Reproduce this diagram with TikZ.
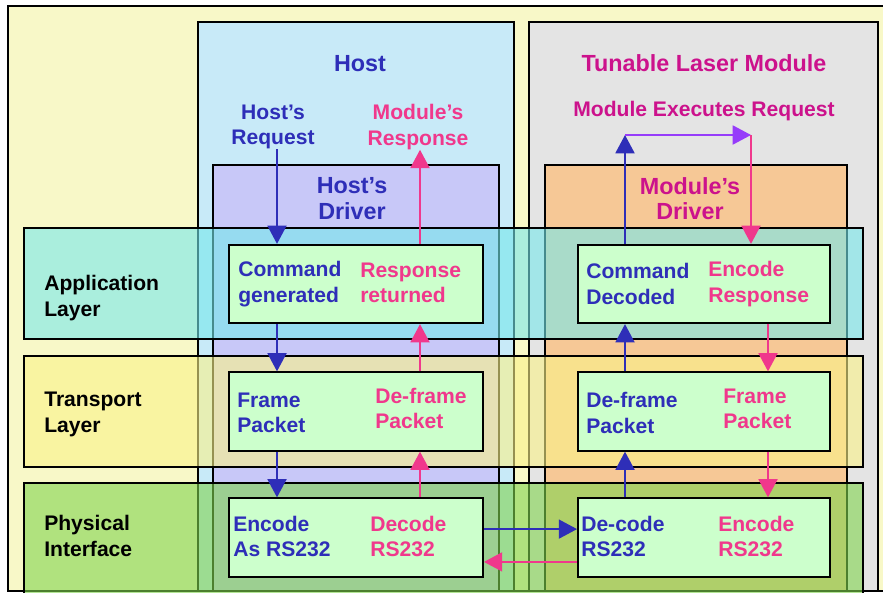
\documentclass[tikz,border=0pt]{standalone}
\usepackage{fontspec}
\setmainfont{Liberation Sans}
\usepackage{tikz}
\usetikzlibrary{arrows.meta}
\usepackage{xcolor}

\definecolor{hostblue}{RGB}{46,46,184}
\definecolor{resppink}{RGB}{240,56,140}
\definecolor{modmag}{RGB}{204,18,140}
\definecolor{execpurple}{RGB}{150,60,250}
\definecolor{bgyellow}{RGB}{248,248,200}
\definecolor{hostcol}{RGB}{200,234,248}
\definecolor{modcol}{RGB}{228,228,228}
\definecolor{hostdrv}{RGB}{200,200,248}
\definecolor{moddrv}{RGB}{246,200,150}
\definecolor{appband}{RGB}{118,232,235}
\definecolor{traband}{RGB}{250,242,135}
\definecolor{phyband}{RGB}{128,212,77}
\definecolor{stagegreen}{RGB}{204,255,204}

\begin{document}
\begin{tikzpicture}[x=0.025cm, y=-0.025cm, >={Triangle[length=13pt, width=13.5pt]},
                    font=\bfseries\fontsize{15}{18}\selectfont]
				\tikzstyle{region} = [draw=black, line width=1.1pt]
				\tikzstyle{band} = [draw=black, line width=1.1pt, fill opacity=0.6]
				\tikzstyle{stage} = [draw=black, line width=1.3pt, fill=stagegreen, inner sep=0pt, minimum height=1.96cm]
				\tikzstyle{lbl} = [align=left, anchor=west, inner sep=0pt]
				\tikzstyle{ctr} = [align=center, inner sep=0pt]
				\tikzstyle{title} = [anchor=base, inner sep=0pt, font=\bfseries\fontsize{16.6}{20}\selectfont]
				\tikzstyle{drvtitle} = [align=center, inner sep=0pt, font=\bfseries\fontsize{16.6}{18}\selectfont]
				\tikzstyle{bluearr} = [->, draw=hostblue, line width=1.4pt]
				\tikzstyle{pinkarr} = [->, draw=resppink, line width=1.4pt]
				\tikzstyle{purplearr} = [->, draw=execpurple, line width=1.4pt]

				\fill[white] (0,0) rectangle (883,593);
				\useasboundingbox (0,0) rectangle (883,593);
				\clip (0,0) rectangle (883,593);

				\draw[region, fill=bgyellow] (8,6) rectangle (900,591);
				\draw[region, fill=hostcol] (198,22) rectangle (514,591);
				\draw[region, fill=modcol] (529,22) rectangle (878,591);
				\draw[region, fill=hostdrv] (213,165) rectangle (499,591);
				\draw[region, fill=moddrv] (545,165) rectangle (847,591);
				\draw[band, fill=appband] (24,228) rectangle (863,339);
				\draw[band, fill=traband] (24,356) rectangle (863,467);
				\draw[band, fill=phyband] (24,483) rectangle (863,600);

				\node[stage, minimum width=6.35cm] at (356, 284)   (happ) {};
				\node[stage, minimum width=6.35cm] at (356, 411.5) (htra) {};
				\node[stage, minimum width=6.35cm] at (356, 537.5) (hphy) {};
				\node[stage, minimum width=6.3cm]  at (704, 284)   (mapp) {};
				\node[stage, minimum width=6.3cm]  at (704, 411.5) (mtra) {};
				\node[stage, minimum width=6.3cm]  at (704, 537.5) (mphy) {};

				\node[title, text=hostblue]          at (360, 71)    (host)  {Host};
				\node[title, text=modmag]            at (704, 71)    (tlm)   {Tunable Laser Module};
				\node[anchor=base, inner sep=0pt, text=modmag] at (704, 116) (mexec) {Module Executes Request};
				\node[ctr, text=hostblue]            at (273, 127)   (hreq)  {Host’s\\Request};
				\node[ctr, text=resppink]            at (418, 127)   (hresp) {Module’s\\Response};
				\node[drvtitle, text=hostblue]       at (352, 198.5) (hdrv)  {Host’s\\Driver};
				\node[drvtitle, text=modmag]         at (690, 198.5) (mdrv)  {Module’s\\Driver};

				\node[lbl]                           at (44, 298)    (lapp)  {Application\\Layer};
				\node[lbl]                           at (44, 414.5)  (ltra)  {Transport\\Layer};
				\node[lbl]                           at (44, 536)    (lphy)  {Physical\\Interface};

				\node[lbl, text=hostblue]            at (238, 284)   (hcmd)  {Command\\generated};
				\node[lbl, text=resppink]            at (360, 283)   (hret)  {Response\\returned};
				\node[lbl, text=hostblue]            at (237, 413)   (hfrm)  {Frame\\Packet};
				\node[lbl, text=resppink]            at (375, 408.5) (hdfrm) {De-frame\\Packet};
				\node[lbl, text=hostblue]            at (233, 536.5) (henc)  {Encode\\As RS232};
				\node[lbl, text=resppink]            at (370, 536.5) (hdec)  {Decode\\RS232};
				\node[lbl, text=hostblue]            at (586, 284)   (mcmd)  {Command\\Decoded};
				\node[lbl, text=resppink]            at (708, 284)   (menc)  {Encode\\Response};
				\node[lbl, text=hostblue]            at (586, 413)   (mdfrm) {De-frame\\Packet};
				\node[lbl, text=resppink]            at (723, 408.5) (mfrm)  {Frame\\Packet};
				\node[lbl, text=hostblue]            at (581, 536.5) (mdec)  {De-code\\RS232};
				\node[lbl, text=resppink]            at (718, 536.5) (mencr) {Encode\\RS232};

				\coordinate (hdn)   at (277, 0);
				\coordinate (hup)   at (420, 0);
				\coordinate (mup)   at (625, 0);
				\coordinate (mdn)   at (768, 0);
				\coordinate (turnL) at (625, 135);
				\coordinate (turnR) at (751, 135);

				\draw[bluearr] (hreq.south -| hdn) -- (happ.north -| hdn);
				\draw[bluearr] (happ.south -| hdn) -- (htra.north -| hdn);
				\draw[bluearr] (htra.south -| hdn) -- (hphy.north -| hdn);
				\draw[pinkarr] (hphy.north -| hup) -- (htra.south -| hup);
				\draw[pinkarr] (htra.north -| hup) -- (happ.south -| hup);
				\draw[pinkarr] (happ.north -| hup) -- (hresp.south -| hup);

				\draw[bluearr] ([yshift=0.21cm]hphy.east) -- ([yshift=0.21cm]mphy.west);
				\draw[pinkarr] ([yshift=-0.61cm]mphy.west) -- ([yshift=-0.61cm]hphy.east);

				\draw[bluearr] (mphy.north -| mup) -- (mtra.south -| mup);
				\draw[bluearr] (mtra.north -| mup) -- (mapp.south -| mup);
				\draw[bluearr] (mapp.north -| mup) -- (turnL);
				\draw[purplearr] (turnL) -- (turnR);
				\draw[pinkarr] (turnR) -- (mapp.north -| turnR);
				\draw[pinkarr] (mapp.south -| mdn) -- (mtra.north -| mdn);
				\draw[pinkarr] (mtra.south -| mdn) -- (mphy.north -| mdn);
\end{tikzpicture}
\end{document}
